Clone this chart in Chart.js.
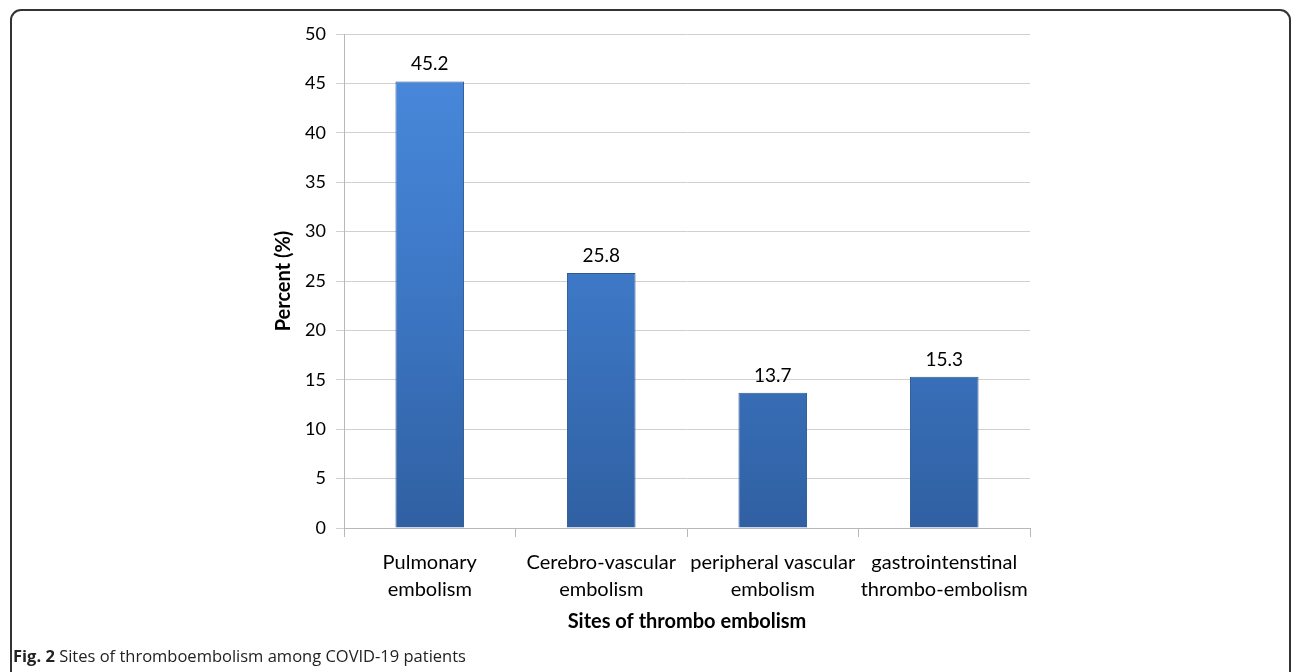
<!DOCTYPE html>
<html>
<head>
<meta charset="utf-8">
<script src="https://cdn.jsdelivr.net/npm/chart.js@4.4.1/dist/chart.umd.min.js"></script>
<style>
  html, body { margin: 0; padding: 0; background: #fff; }
  body { width: 1292px; height: 672px; position: relative; overflow: hidden; }
  #frame {
    position: absolute; left: 10px; top: 9px; width: 1281px; height: 700px;
    border: 2px solid #333; border-radius: 11px; box-sizing: border-box;
  }
  #wrap { position: absolute; left: 0; top: 0; width: 1292px; height: 672px; }
  #caption {
    position: absolute; left: 13px; top: 644px;
    font-family: "Open Sans", sans-serif; font-size: 16.5px; color: #222;
  }
  #caption b { font-weight: 700; }
</style>
</head>
<body>
<div id="frame"></div>
<div id="wrap"><canvas id="sites-graph" width="1292" height="672"></canvas></div>
<div id="caption"><b>Fig. 2</b> Sites of thromboembolism among COVID-19 patients</div>
<script>
const categories = [
    ['Pulmonary', 'embolism'],
    ['Cerebro-vascular', 'embolism'],
    ['peripheral vascular', 'embolism'],
    ['gastrointenstinal', 'thrombo-embolism']
];
const percents = [45.2, 25.8, 13.7, 15.3];
const yTicks = [0, 5, 10, 15, 20, 25, 30, 35, 40, 45, 50];

const chartFont = 'Lato, Carlito, Calibri, sans-serif';

// value labels on top of each bar
const valueLabels = {
    id: 'valueLabels',
    afterDatasetsDraw(chart) {
        const ctx = chart.ctx;
        const meta = chart.getDatasetMeta(0);
        ctx.save();
        ctx.font = '19px ' + chartFont;
        ctx.fillStyle = '#000';
        ctx.textAlign = 'center';
        ctx.textBaseline = 'alphabetic';
        meta.data.forEach((bar, i) => {
            ctx.fillText(percents[i].toFixed(1), bar.x, bar.y - 11);
        });
        ctx.restore();
    }
};

function barGradient(context) {
    const area = context.chart.chartArea;
    if (!area) return '#3d7acb';
    const g = context.chart.ctx.createLinearGradient(0, area.top, 0, area.bottom);
    g.addColorStop(0, '#4a8ade');
    g.addColorStop(0.5, '#3d78c6');
    g.addColorStop(1, '#3060a2');
    return g;
}

const ctx = document.getElementById('sites-graph').getContext('2d');
const sitesChart = new Chart(ctx, {
    type: 'bar',
    data: {
        labels: categories,
        datasets: [{
            label: 'Percent',
            data: percents,
            backgroundColor: barGradient,
            borderColor: '#2b5a94',
            borderWidth: 1,
            barPercentage: 0.4,
            categoryPercentage: 1
        }]
    },
    options: {
        responsive: false,
        animation: false,
        devicePixelRatio: 1,
        layout: {
            padding: { left: 260, right: 262, top: 34, bottom: 38 }
        },
        scales: {
            x: {
                grid: {
                    offset: true,
                    drawOnChartArea: false,
                    drawTicks: true,
                    tickLength: 9,
                    color: '#b8b8b8'
                },
                border: { color: '#b8b8b8', width: 1 },
                ticks: {
                    color: '#000',
                    font: { family: chartFont, size: 20, lineHeight: 1.35 },
                    padding: 12,
                    maxRotation: 0,
                    autoSkip: false
                },
                title: {
                    display: true,
                    text: 'Sites of thrombo embolism',
                    color: '#000',
                    font: { family: chartFont, size: 20, weight: 'bold' },
                    padding: { top: 8, bottom: 0 }
                },
                afterFit(scale) { scale.height = 106; }
            },
            y: {
                min: 0,
                max: 50,
                afterBuildTicks(scale) {
                    scale.ticks = yTicks.map(v => ({ value: v }));
                },
                grid: {
                    color: '#d0d0d0',
                    tickLength: 8,
                    lineWidth: 1
                },
                border: { color: '#b8b8b8', width: 1 },
                ticks: {
                    color: '#000',
                    font: { family: chartFont, size: 18 },
                    padding: 10
                },
                title: {
                    display: true,
                    text: 'Percent (%)',
                    color: '#000',
                    font: { family: chartFont, size: 20, weight: 'bold' },
                    padding: { top: 12, bottom: 0 }
                },
                afterFit(scale) { scale.width = 84; }
            }
        },
        plugins: {
            legend: { display: false },
            tooltip: { enabled: false }
        }
    },
    plugins: [valueLabels]
});
</script>
</body>
</html>
